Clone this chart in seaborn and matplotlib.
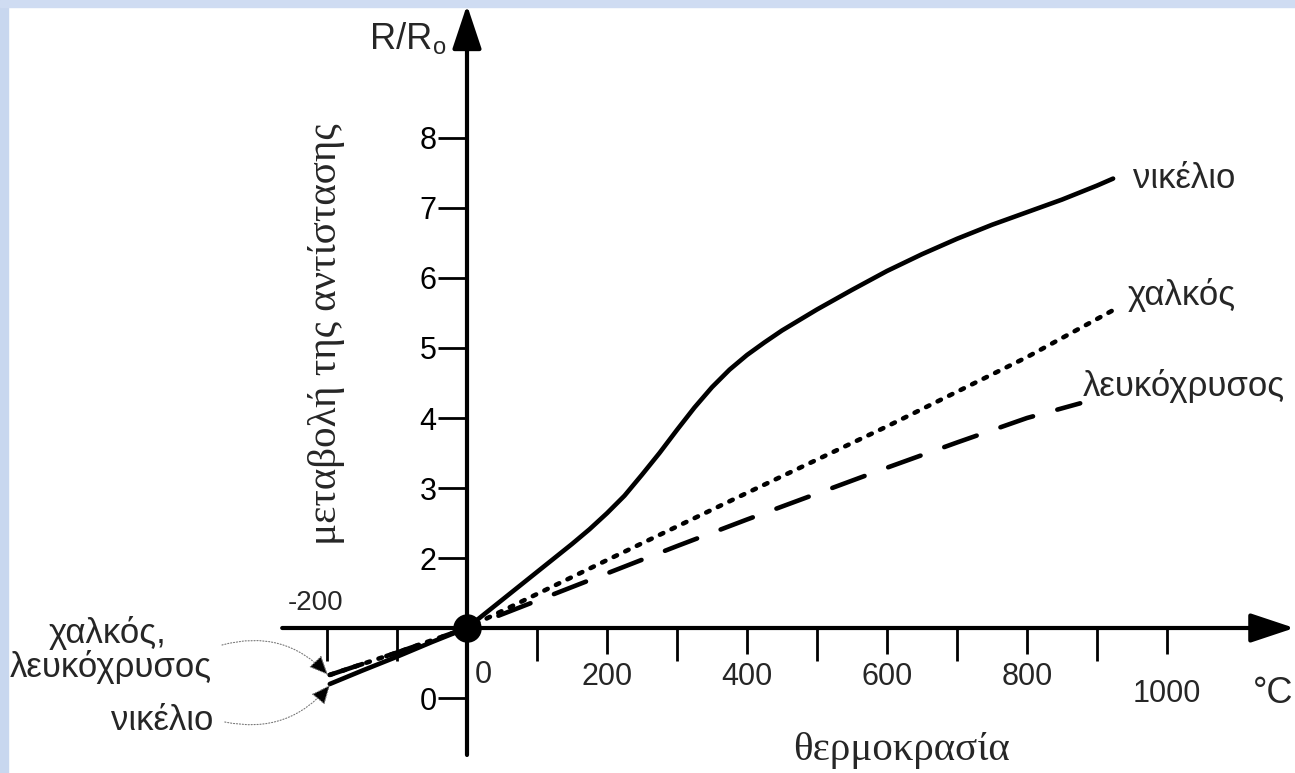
import matplotlib.pyplot as plt
import seaborn as sns
from matplotlib.patches import Rectangle

# temperature (degC) and R/Ro
temp_nickel = [-196, -150, -100, -50, 0, 50, 100, 150, 175, 200, 225, 250, 275,
               300, 325, 350, 375, 400, 425, 450, 500, 550, 600, 650, 700, 750,
               800, 850, 900, 923]
r_nickel = [0.2, 0.39, 0.59, 0.80, 1.0, 1.40, 1.80, 2.20, 2.41, 2.64, 2.89, 3.19,
            3.50, 3.83, 4.15, 4.44, 4.69, 4.90, 5.08, 5.25, 5.55, 5.83, 6.10, 6.34,
            6.56, 6.76, 6.94, 7.12, 7.32, 7.42]

temp_copper = [-196, -100, 0, 200, 400, 600, 800, 923]
r_copper = [0.33, 0.65, 1.0, 1.97, 2.93, 3.88, 4.87, 5.54]

temp_platinum = [-196, -100, 0, 100, 200, 300, 400, 500, 600, 700, 800, 876]
r_platinum = [0.33, 0.65, 1.0, 1.39, 1.78, 2.17, 2.55, 2.92, 3.29, 3.65, 4.0, 4.21]

x_labeled = [200, 400, 600, 800]
x_long_ticks = [-200, -100, 100, 300, 500, 700, 900]
x_short_ticks = [200, 400, 600, 800, 1000]
y_ticks = [0, 2, 3, 4, 5, 6, 7, 8]

sns.set_style("white")
plt.rcParams['font.family'] = ['Liberation Sans', 'DejaVu Sans']
SERIF = ['Liberation Serif', 'DejaVu Serif']

fig = plt.figure(figsize=(12.95, 7.73), dpi=100)
ax = fig.add_axes([0, 0, 1, 1])
ax.set_xlim(-667.14, 1182.86)
ax.set_ylim(-1.0714, 9.9714)

# curves
sns.lineplot(x=temp_platinum, y=r_platinum, ax=ax, color='black', lw=3.3,
             estimator=None, linestyle=(0, (7.5, 5.5)), dash_capstyle='round')
sns.lineplot(x=temp_copper, y=r_copper, ax=ax, color='black', lw=3.3,
             estimator=None, linestyle=(0, (0.8, 2.0)), dash_capstyle='round')
sns.lineplot(x=temp_nickel, y=r_nickel, ax=ax, color='black', lw=3.3,
             estimator=None, solid_capstyle='round', solid_joinstyle='round')
ax.plot([0], [1], 'o', ms=19.5, color='black', zorder=5)

# axes drawn as arrows through the origin
for s in ax.spines.values():
    s.set_visible(False)
ax.spines['left'].set_position(('data', 0))
ax.spines['bottom'].set_position(('data', 1))
arrow = dict(arrowstyle='-|>,head_length=1.35,head_width=0.45', lw=3,
             color='black', mutation_scale=20, shrinkA=0, shrinkB=0)
ax.annotate('', xy=(0, 9.9), xytext=(0, -0.814), arrowprops=arrow)
ax.annotate('', xy=(1182, 1), xytext=(-264, 1), arrowprops=arrow)

ax.set_xticks(x_short_ticks)
ax.set_xticks(x_long_ticks, minor=True)
ax.set_xticklabels([])
ax.tick_params(axis='x', which='major', length=18.7, width=2, direction='out',
               bottom=True, color='black')
ax.tick_params(axis='x', which='minor', length=23.8, width=2, direction='out',
               bottom=True, color='black')
ax.set_yticks(y_ticks)
ax.set_yticklabels([str(v) for v in y_ticks])
ax.tick_params(axis='y', length=21, width=2, direction='out', left=True,
               pad=1, labelsize=22, color='black', labelcolor='black')

# x tick labels
for v in x_labeled:
    ax.text(v, 0.186, str(v), ha='center', va='baseline', fontsize=22)
ax.text(11, 0.214, '0', ha='left', va='baseline', fontsize=22)
ax.text(-217, 1.257, '-200', ha='center', va='baseline', fontsize=20)
ax.text(1000, -0.057, '1000', ha='center', va='baseline', fontsize=22)
ax.text(1123, -0.07, '°C', ha='left', va='baseline', fontsize=26)

# axis titles
ax.text(-50, 9.27, 'R/R', ha='right', va='baseline', fontsize=26)
ax.text(-48, 9.2, 'o', ha='left', va='baseline', fontsize=17)
ax.text(-201, 5.2, 'μεταβολή της αντίστασης', rotation=90, ha='center',
        va='center', fontsize=29.5, family=SERIF)
ax.text(621, -0.88, 'θερμοκρασία', ha='center', va='baseline', fontsize=29.5,
        family=SERIF)

# curve labels
ax.text(951, 7.29, 'νικέλιο', ha='left', va='baseline', fontsize=25)
ax.text(944, 5.61, 'χαλκός', ha='left', va='baseline', fontsize=25)
ax.text(879, 4.31, 'λευκόχρυσος', ha='left', va='baseline', fontsize=25)

ax.text(-513, 0.786, 'χαλκός,', ha='center', va='baseline', fontsize=25)
ax.text(-509, 0.30, 'λευκόχρυσος', ha='center', va='baseline', fontsize=25)
ax.text(-363, -0.457, 'νικέλιο', ha='right', va='baseline', fontsize=25)

pointer = dict(arrowstyle='-|>,head_length=0.8,head_width=0.35', lw=0.8,
               ls=':', ec='#777777', fc='black', mutation_scale=15,
               shrinkA=0, shrinkB=0)
ax.annotate('', xy=(-198.6, 0.33), xytext=(-350, 0.757),
            arrowprops=dict(pointer, connectionstyle='arc3,rad=-0.3'))
ax.annotate('', xy=(-195.7, 0.186), xytext=(-346, -0.343),
            arrowprops=dict(pointer, connectionstyle='arc3,rad=0.3'))

# light blue frame at top and left
fig.add_artist(Rectangle((0, 0), 8 / 1295, 1, transform=fig.transFigure,
                         color='#c8d7ef', zorder=10))
fig.add_artist(Rectangle((0, 1 - 7 / 773), 1, 7 / 773, transform=fig.transFigure,
                         color='#cfdcf2', zorder=10))

fig.savefig('out.png', dpi=100)
